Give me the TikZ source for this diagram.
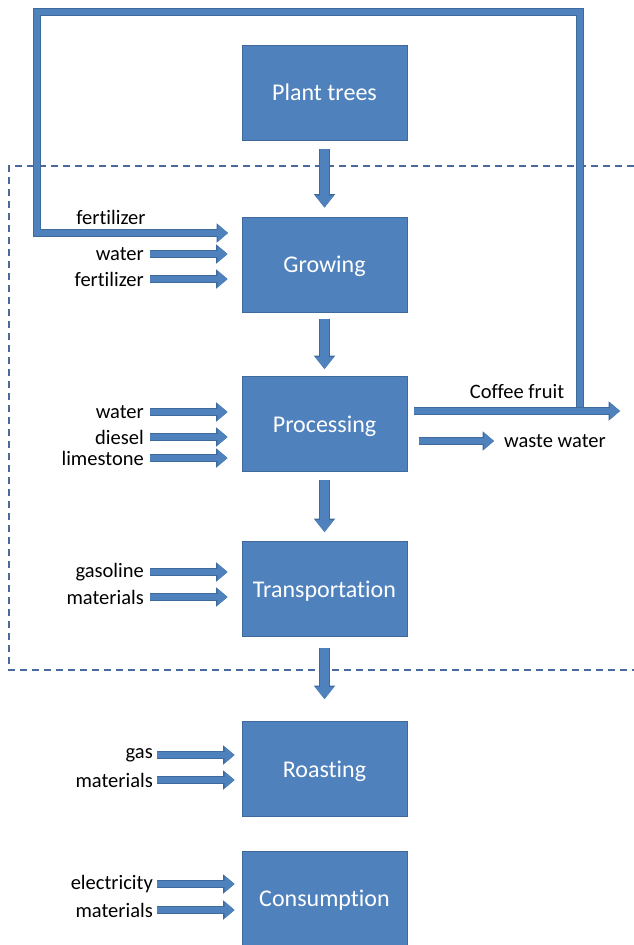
\documentclass[tikz,border=0pt]{standalone}
\usepackage{fontspec}
\setmainfont{Carlito}[Ligatures={NoCommon}]
\usetikzlibrary{arrows.meta}
\definecolor{boxfill}{HTML}{4F81BD}
\definecolor{boxedge}{HTML}{3F6A9C}
\definecolor{dashc}{HTML}{4A6A9C}
\begin{document}
\begin{tikzpicture}[x=1pt,y=-1pt,
  box/.style={draw=boxedge, line width=1pt, fill=boxfill, minimum width=165pt, minimum height=95pt, text=white, font=\fontsize{24}{28}\selectfont, inner sep=0pt, text depth=0pt},
  lbl/.style={font=\fontsize{20.5}{24}\selectfont, inner sep=0pt, text=black},
  barrow/.style={draw=boxfill, line width=6pt, line join=miter,
    -{Triangle[length=10pt,width=17pt,line width=0pt]},
    preaction={draw=boxedge, line width=8pt, line join=miter, -{Triangle[length=11.5pt,width=19.5pt,line width=0pt]}}},
  darrow/.style={draw=boxfill, line width=9pt,
    -{Triangle[length=12pt,width=19pt,line width=0pt]},
    preaction={draw=boxedge, line width=11pt, -{Triangle[length=13.5pt,width=21.5pt,line width=0pt]}}},
  dashline/.style={draw=dashc, line width=1.3pt, dash pattern=on 7pt off 5pt}
]
\useasboundingbox (0,0) rectangle (634,945);

% dashed boundary
\coordinate (dTR) at (634,166);
\coordinate (dTL) at (9,166);
\coordinate (dBL) at (9,670);
\coordinate (dBR) at (634,670);
\draw[dashline] (dTR) -- (dTL) -- (dBL) -- (dBR);

% boxes
\node[box] (plant) at (324.5,92.5) {Plant trees};
\node[box] (grow) at (324.5,264.5) {Growing};
\node[box] (proc) at (324.5,424) {Processing};
\node[box] (trans) at (324.5,589) {Transportation};
\node[box] (roast) at (324.5,769) {Roasting};
\node[box] (cons) at (324.5,898.5) {Consumption};

% down arrows
\draw[darrow, shorten <=8pt, shorten >=9pt] (plant) -- (grow);
\draw[darrow, shorten <=6pt, shorten >=7pt] (grow) -- (proc);
\draw[darrow, shorten <=8pt, shorten >=9pt] (proc) -- (trans);
\draw[darrow, shorten <=11pt, shorten >=22pt] (trans) -- (roast);

% recycle loop
\coordinate (cfstart) at (407,411);
\coordinate (cfend) at (620,411);
\coordinate (jR) at (580,411);
\coordinate (topR) at (580,12);
\coordinate (topL) at (37,12);
\coordinate (botL) at (37,233);
\coordinate (fertend) at (242,233);
\draw[barrow, shorten >=14pt] (jR) -- (topR) -- (topL) -- (botL) -- (fertend);
\node[lbl] (lfert1) at (111,217) {fertilizer};

% coffee fruit / waste water
\draw[barrow, shorten <=7pt] (cfstart) -- (cfend);
\node[lbl] (lcoffee) at (517,392) {Coffee fruit};
\node[lbl, anchor=west] (lwaste) at (504,441) {waste water};
\draw[barrow, shorten <=11pt, shorten >=10pt] (proc.east |- lwaste) -- (lwaste.west);

% left inputs
\node[lbl, anchor=east] (gw) at (144,254) {water};
\node[lbl, anchor=east] (gf) at (144,279) {fertilizer};
\node[lbl, anchor=east] (pw) at (144,412) {water};
\node[lbl, anchor=east] (pd) at (144,437) {diesel};
\node[lbl, anchor=east] (pl) at (144,458) {limestone};
\node[lbl, anchor=east] (tg) at (144,572) {gasoline};
\node[lbl, anchor=east] (tm) at (144,597) {materials};
\node[lbl, anchor=east] (rg) at (153,755) {gas};
\node[lbl, anchor=east] (rm) at (153,780) {materials};
\node[lbl, anchor=east] (ce) at (153,884) {electricity};
\node[lbl, anchor=east] (cm) at (153,910) {materials};

\foreach \l/\b in {gw/grow, gf/grow, pw/proc, pd/proc, pl/proc, tg/trans, tm/trans}
  \draw[barrow, shorten <=6pt, shorten >=14pt] (\l.east) -- (\l.east -| \b.west);
\foreach \l/\b in {rg/roast, rm/roast, ce/cons, cm/cons}
  \draw[barrow, shorten <=4pt, shorten >=7pt] (\l.east) -- (\l.east -| \b.west);
\end{tikzpicture}
\end{document}
